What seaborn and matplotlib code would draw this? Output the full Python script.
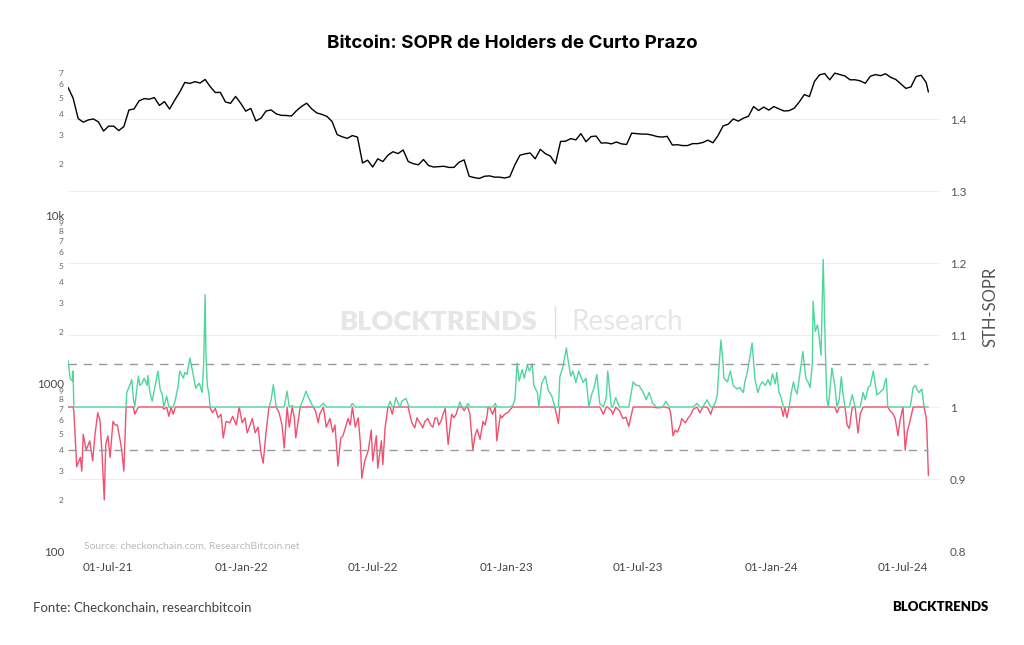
import numpy as np
import pandas as pd
import matplotlib
matplotlib.use("Agg")
import matplotlib.pyplot as plt
import matplotlib.dates as mdates
import seaborn as sns

# ---------------- data ----------------
start_date = "2021-05-07"

# weekly BTC price (USD thousands), Fridays from start_date
price_2021 = [57.5, 49.7, 37.5, 35.7, 36.8, 37.3, 35.8, 31.6, 33.8, 33.8, 31.8, 33.6, 42.2, 42.8,
              47.8, 49.3, 48.9, 50.0, 44.9, 47.3, 42.7, 48.2, 53.9, 61.5, 60.7, 62.2, 61.0, 64.1,
              58.1, 53.6, 53.7, 47.1, 46.2, 50.8, 46.3]
price_2022 = [41.5, 43.1, 36.3, 37.7, 41.6, 42.2, 40.0, 39.2, 39.1, 38.8, 41.8, 44.3, 46.3, 42.8,
              40.5, 39.7, 38.6, 36.0, 30.1, 29.2, 28.6, 29.7, 29.1, 20.4, 21.2, 19.3, 21.6, 20.8,
              22.7, 23.8, 23.2, 24.4, 20.8, 20.2, 19.9, 21.4, 19.7, 19.3, 19.4, 19.5, 19.2, 19.2,
              20.6, 21.3, 17.0, 16.7, 16.5, 17.0, 17.1, 16.8, 16.8, 16.6]
price_2023 = [16.9, 19.9, 22.7, 23.1, 23.4, 21.6, 24.6, 23.2, 22.4, 20.2, 27.4, 27.5, 28.5, 28.0,
              30.5, 27.3, 29.3, 29.5, 26.8, 26.9, 26.5, 27.2, 26.5, 26.3, 30.7, 30.5, 30.3, 30.3,
              29.9, 29.3, 29.1, 29.4, 26.1, 26.2, 25.9, 25.9, 26.6, 26.6, 27.0, 27.9, 26.9, 29.7,
              33.9, 34.7, 37.3, 36.2, 37.7, 38.7, 44.2, 41.9, 43.9, 42.1]
price_2024 = [44.2, 42.8, 41.6, 41.8, 43.2, 47.1, 52.1, 50.7, 62.4, 68.3, 69.5, 63.8, 69.9, 68.5,
              67.2, 63.8, 63.8, 62.9, 60.8, 67.0, 68.5, 67.5, 69.3, 66.0, 64.1, 60.3, 56.7, 57.9,
              66.7, 67.9, 61.4]
price_last_date = "2024-08-05"
price_last = 54.0

# STH-SOPR: day offset from start_date and value
sopr_day = [
    0, 3, 6, 7, 8, 12, 17, 19, 21, 25,
    30, 34, 37, 41, 44, 47, 50, 52, 55, 58,
    62, 65, 68, 72, 74, 77, 80, 81, 85, 88,
    90, 92, 97, 99, 102, 105, 109, 110, 113, 116,
    119, 121, 124, 127, 130, 132, 136, 139, 142, 145,
    148, 152, 154, 159, 161, 164, 168, 172, 176, 181,
    185, 187, 189, 190, 192, 194, 196, 199, 203, 207,
    211, 214, 218, 223, 227, 232, 236, 240, 244, 247,
    251, 254, 258, 262, 266, 269, 273, 277, 280, 283,
    287, 291, 295, 298, 302, 305, 309, 312, 314, 320,
    324, 328, 331, 334, 338, 341, 345, 347, 352, 356,
    361, 365, 368, 371, 372, 376, 379, 382, 386, 389,
    392, 396, 400, 403, 405, 409, 414, 418, 420, 425,
    427, 432, 434, 437, 441, 444, 447, 449, 452, 455,
    458, 460, 463, 466, 469, 471, 474, 478, 481, 484,
    487, 489, 492, 496, 500, 503, 506, 509, 511, 514,
    517, 520, 524, 527, 529, 532, 535, 538, 540, 543,
    546, 549, 551, 554, 556, 558, 561, 564, 568, 572,
    575, 578, 579, 582, 585, 586, 589, 591, 596, 598,
    602, 607, 609, 613, 616, 619, 622, 626, 629, 633,
    636, 640, 642, 647, 649, 653, 658, 662, 667, 671,
    676, 678, 682, 687, 689, 693, 696, 700, 704, 710,
    714, 718, 722, 725, 729, 733, 738, 742, 744, 749,
    751, 755, 760, 765, 769, 773, 779, 783, 787, 793,
    797, 801, 806, 811, 816, 820, 824, 829, 831, 834,
    837, 840, 844, 846, 851, 855, 857, 862, 867, 871,
    875, 881, 886, 889, 892, 895, 897, 900, 903, 904,
    909, 913, 917, 922, 926, 931, 933, 936, 939, 943,
    947, 951, 954, 957, 961, 965, 968, 971, 975, 977,
    980, 983, 986, 988, 991, 994, 997, 1000, 1002, 1005,
    1009, 1013, 1017, 1020, 1023, 1026, 1027, 1030, 1033, 1035,
    1038, 1041, 1044, 1046, 1048, 1050, 1053, 1057, 1060, 1063,
    1066, 1068, 1071, 1074, 1077, 1081, 1085, 1089, 1092, 1096,
    1099, 1103, 1106, 1110, 1113, 1115, 1119, 1124, 1126, 1128,
    1130, 1133, 1136, 1140, 1143, 1144, 1147, 1151, 1154, 1157,
    1161, 1165, 1168, 1170, 1173, 1177, 1180, 1183, 1184, 1186,
]
sopr_val = [
    1.065, 1.04, 1.036, 1.05, 0.995, 0.917, 0.93, 0.911, 0.962, 0.94,
    0.953, 0.925, 0.96, 0.992, 0.982, 0.934, 0.871, 0.948, 0.96, 0.93,
    0.98, 0.975, 0.975, 0.953, 0.94, 0.911, 0.998, 1.02, 1.03, 1.038,
    1.013, 0.99, 1.043, 1.03, 1.033, 1.04, 1.03, 1.044, 1.02, 1.008,
    1.024, 1.035, 1.05, 1.025, 1.017, 0.997, 1.015, 0.987, 1.0, 0.99,
    1.01, 1.03, 1.05, 1.04, 1.048, 1.045, 1.068, 1.048, 1.026, 1.033,
    1.02, 1.06, 1.156, 1.08, 1.03, 1.02, 0.999, 0.992, 0.998, 0.985,
    0.99, 0.957, 0.98, 0.978, 0.987, 0.975, 1.0, 0.978, 0.985, 0.964,
    0.975, 0.984, 0.964, 0.972, 0.936, 0.922, 0.965, 1.0, 1.01, 1.031,
    1.0, 0.992, 0.975, 0.943, 1.022, 0.972, 1.002, 0.985, 0.957, 1.0,
    1.01, 1.022, 1.015, 1.008, 1.0, 0.995, 0.978, 0.99, 1.005, 0.972,
    0.984, 0.965, 0.975, 0.934, 0.918, 0.957, 0.96, 0.97, 0.984, 0.975,
    1.005, 0.972, 0.985, 0.95, 0.901, 0.925, 0.94, 0.968, 0.925, 0.96,
    0.915, 0.953, 0.92, 0.97, 1.0, 1.008, 0.99, 1.0, 1.013, 1.005,
    1.0, 1.008, 1.01, 1.012, 1.003, 0.99, 0.978, 0.971, 0.985, 0.98,
    0.975, 0.971, 0.98, 0.984, 0.975, 0.972, 0.985, 0.984, 0.975, 0.98,
    0.99, 0.998, 0.948, 0.975, 0.99, 0.985, 0.99, 1.0, 1.007, 1.0,
    0.995, 1.0, 1.005, 0.99, 0.965, 0.94, 0.96, 0.969, 0.955, 0.98,
    0.975, 0.99, 1.0, 0.998, 0.99, 0.992, 1.005, 0.953, 0.989, 0.985,
    0.99, 0.993, 0.996, 1.002, 1.01, 1.061, 1.036, 1.052, 1.04, 1.058,
    1.05, 1.06, 1.03, 1.02, 1.0, 1.033, 1.043, 1.023, 1.015, 1.0,
    0.977, 1.042, 1.055, 1.082, 1.067, 1.043, 1.05, 1.034, 1.05, 1.034,
    1.04, 1.0, 1.018, 1.026, 1.045, 1.005, 0.99, 1.013, 1.05, 0.995,
    0.99, 1.013, 0.995, 0.984, 0.986, 0.973, 1.035, 1.03, 1.03, 1.02,
    1.01, 1.02, 1.005, 0.999, 0.999, 1.0, 1.008, 0.998, 0.99, 0.96,
    0.968, 0.965, 0.975, 0.984, 0.978, 0.985, 0.987, 0.997, 1.005, 0.992,
    1.0, 1.01, 0.99, 1.0, 1.005, 1.017, 1.05, 1.093, 1.06, 1.04,
    1.035, 1.05, 1.03, 1.025, 1.027, 1.02, 1.035, 1.046, 1.064, 1.089,
    1.038, 1.02, 1.03, 1.035, 1.03, 1.038, 1.03, 1.046, 1.032, 1.048,
    1.02, 1.013, 0.987, 1.0, 0.985, 1.0, 1.02, 1.035, 1.025, 1.018,
    1.048, 1.077, 1.04, 1.035, 1.027, 1.06, 1.147, 1.105, 1.114, 1.101,
    1.072, 1.205, 1.077, 1.012, 1.0, 1.02, 1.054, 1.03, 0.992, 1.01,
    1.042, 1.02, 1.0, 0.975, 0.97, 1.017, 1.0, 0.964, 0.99, 1.02,
    1.01, 1.027, 1.03, 1.05, 1.03, 1.017, 1.02, 1.025, 1.035, 1.04,
    1.0, 0.995, 0.992, 0.985, 0.967, 0.96, 0.982, 1.0, 0.94, 0.966,
    0.982, 1.027, 1.03, 1.025, 1.02, 1.025, 1.0, 0.985, 0.965, 0.905,
]

band_levels = [1.06, 0.94]
x_tick_dates = ["2021-07-01", "2022-01-01", "2022-07-01", "2023-01-01",
                "2023-07-01", "2024-01-01", "2024-07-01"]
x_end = "2024-08-21"
right_ticks = [0.8, 0.9, 1.0, 1.1, 1.2, 1.3, 1.4]
right_labels = ["0.8", "0.9", "1", "1.1", "1.2", "1.3", "1.4"]
left_major = [100, 1000, 10000]
left_major_labels = ["100", "1000", "10k"]
left_minor = [200, 300, 400, 500, 600, 700, 800, 900,
              2000, 3000, 4000, 5000, 6000, 7000, 8000, 9000,
              20000, 30000, 40000, 50000, 60000, 70000]
left_minor_labels = ["2", "3", "4", "5", "6", "7", "8", "9",
                     "2", "3", "4", "5", "6", "7", "8", "9",
                     "2", "3", "4", "5", "6", "7"]

# ---------------- frames ----------------
prices = price_2021 + price_2022 + price_2023 + price_2024
p_dates = list(pd.date_range(start_date, periods=len(prices), freq="7D")) + [pd.Timestamp(price_last_date)]
price_df = pd.DataFrame({"date": p_dates, "price": [p * 1000 for p in prices] + [price_last * 1000]})

n = min(len(sopr_day), len(sopr_val))
s_dates = pd.Timestamp(start_date) + pd.to_timedelta(sopr_day[:n], unit="D")
s_vals = np.array(sopr_val[:n])
sopr_df = pd.DataFrame({"date": s_dates,
                        "green": np.maximum(s_vals, 1.0),
                        "red": np.minimum(s_vals, 1.0)})

# ---------------- style ----------------
sns.set_theme(style="white")
plt.rcParams["font.family"] = ["Lato", "DejaVu Sans"]

GREEN = "#4fd69c"
RED = "#f2506f"
TXT = "#555555"

fig = plt.figure(figsize=(10.24, 6.45), dpi=100)
W, H = 1024, 645
ax = fig.add_axes([68 / W, 94 / H, 872 / W, 488 / H])
ax2 = ax.twinx()
# price axis drawn above the SOPR axis (which carries the grid)
ax.set_zorder(ax2.get_zorder() + 1)
ax.patch.set_visible(False)

# price on log axis (left)
ax.set_yscale("log")
sns.lineplot(data=price_df, x="date", y="price", ax=ax, color="black", linewidth=1.0, legend=False)
ax.set_ylim(100, 10 ** (4 + 152 / 168))
ax.set_yticks(left_major)
ax.set_yticklabels(left_major_labels, fontsize=8.3, color="#444444")
ax.set_yticks(left_minor, minor=True)
ax.set_yticklabels(left_minor_labels, minor=True, fontsize=6, color="#666666")
ax.tick_params(axis="y", which="both", length=0, pad=3)

# SOPR (right)
sns.lineplot(data=sopr_df, x="date", y="red", ax=ax2, color=RED, linewidth=1.0, legend=False)
sns.lineplot(data=sopr_df, x="date", y="green", ax=ax2, color=GREEN, linewidth=1.0, legend=False)
band_x = [s_dates[0], s_dates[-1]]
for lvl in band_levels:
    ax2.plot(band_x, [lvl, lvl], color="#999999", linewidth=1.0, dashes=(6, 5))
ax2.set_ylim(0.8, 0.8 + 488 / 720)
ax2.set_yticks(right_ticks)
ax2.set_yticklabels(right_labels, fontsize=8.5, color=TXT)
ax2.tick_params(axis="y", length=0, pad=7)
ax2.set_ylabel("STH-SOPR", fontsize=12, color=TXT, labelpad=12)

# x axis
ax.set_xlim(pd.Timestamp(start_date), pd.Timestamp(x_end))
ax.set_xticks(pd.to_datetime(x_tick_dates))
ax.xaxis.set_major_formatter(mdates.DateFormatter("%d-%b-%y"))
ax.tick_params(axis="x", length=0, pad=8, labelsize=8.5, labelcolor="#444444")
ax.set_xlabel("")
ax.set_ylabel("")

# grids (on the lower SOPR axis so they stay behind the lines)
ax.grid(False)
ax2.grid(False)
ax2.grid(axis="y", color="#eeeeee", linewidth=0.8)
ax2.grid(axis="x", color="#f0f0f0", linewidth=0.8)
ax2.set_axisbelow(True)
for a in (ax, ax2):
    for sp in a.spines.values():
        sp.set_visible(False)

# watermark
fig.text(438 / W, 1 - 322 / H, "BLOCKTRENDS", fontsize=19.5, fontweight="heavy",
         color="#e6e6e6", ha="center", va="center", zorder=0)
fig.add_artist(plt.Line2D([555 / W, 555 / W], [1 - 306 / H, 1 - 338 / H],
                          color="#e0e0e0", linewidth=1.0))
fig.text(571 / W, 1 - 322 / H, "Research", fontsize=20, color="#e6e6e6",
         ha="left", va="center")

# texts
fig.text(84 / W, 1 - 546 / H, "Source: checkonchain.com, ResearchBitcoin.net",
         fontsize=7.5, color="#bbbbbb", ha="left", va="center")
fig.text(512 / W, 1 - 44 / H, "Bitcoin: SOPR de Holders de Curto Prazo",
         fontsize=13.5, fontweight="bold", color="black", ha="center", va="center",
         family=["Inter", "DejaVu Sans"])
fig.text(33 / W, 1 - 607 / H, "Fonte: Checkonchain, researchbitcoin",
         fontsize=9.5, color="#444444", ha="left", va="center")
fig.text(988 / W, 1 - 607 / H, "BLOCKTRENDS", fontsize=9.5, fontweight="heavy",
         color="black", ha="right", va="center")

fig.savefig("out.png", dpi=100)
